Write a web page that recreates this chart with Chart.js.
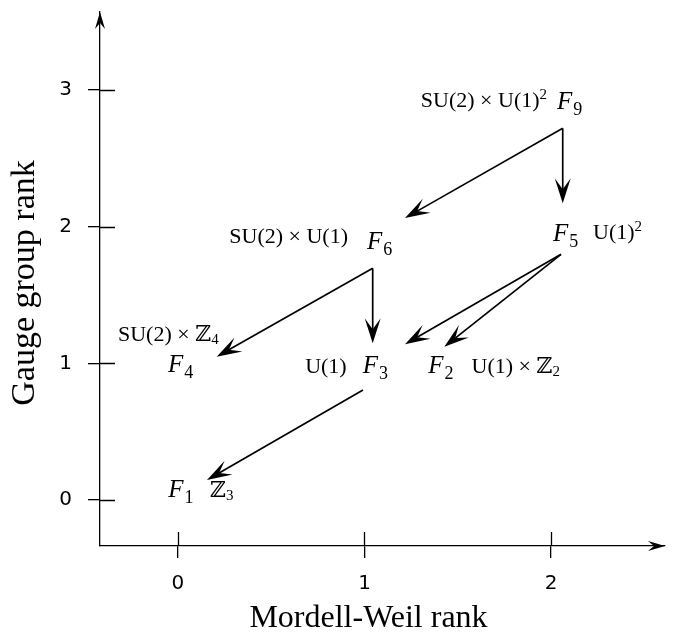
<!DOCTYPE html>
<html><head><meta charset="utf-8">
<script src="https://cdn.jsdelivr.net/npm/chart.js@4.4.1/dist/chart.umd.min.js"></script>
<style>html,body{margin:0;padding:0;background:#fff}#wrap{width:676px;height:633px;position:relative}</style>
</head><body><div id="wrap"><canvas id="c"></canvas></div>
<script>
// ---- data ----
const fibers = ['F_1','F_2','F_3','F_4','F_5','F_6','F_9'];
const mordellWeilRank = [0, 1, 1, 0, 2, 1, 2];
const gaugeGroupRank  = [0, 1, 1, 1, 2, 2, 3];
const gaugeGroups = ['ℤ_3', 'U(1) × ℤ_2', 'U(1)', 'SU(2) × ℤ_4', 'U(1)^2', 'SU(2) × U(1)', 'SU(2) × U(1)^2'];
const transitionFrom = ['F_9','F_9','F_6','F_6','F_5','F_5','F_3'];
const transitionTo   = ['F_6','F_5','F_4','F_3','F_3','F_2','F_1'];
const xTickValues = [0, 1, 2];
const yTickValues = [0, 1, 2, 3];
const xTitle = 'Mordell-Weil rank';
const yTitle = 'Gauge group rank';
const xRange = [-0.418, 2.611];
const yRange = [-0.336, 3.57];

// ---- layout (pixel offsets relative to each node) ----
const nameOffset  = {F_1:[-9.7,-3.3],F_2:[63.8,10],F_3:[-1.8,10],F_4:[-10,8.7],F_5:[2,14.4],F_6:[2.5,22.4],F_9:[6,19]};
const groupOffset = {F_1:[32,-3.3,'left'],F_2:[107,10,'left'],F_3:[-17.8,10,'right'],F_4:[-60,-22.3,'left'],F_5:[42,12.4,'left'],F_6:[-16.5,16.4,'right'],F_9:[-4,17,'right']};
const outOffset   = {F_9:[11.7,38.4],F_6:[8.2,41.7],F_5:[10,27.7],F_3:[-1.5,26.7]};
const inOffset    = [[40.5,-8.6],[11.7,-23.3],[38.7,-6.6],[8.2,-20],[40.5,-19],[79.8,-16.6],[29,-20]];

const SERIF = '"Liberation Serif","DejaVu Serif",serif';

function parseRich(s){
  const segs=[]; let buf='';
  for(let i=0;i<s.length;i++){
    const c=s[i];
    if(c==='_'||c==='^'){ if(buf){segs.push({t:buf,m:0});buf='';} segs.push({t:s[i+1],m:c==='_'?1:2}); i++; }
    else buf+=c;
  }
  if(buf) segs.push({t:buf,m:0});
  return segs;
}
function drawRich(ctx, s, x, y, align, size, italicBase, subSize, subShift){
  const segs = parseRich(s);
  const fontFor = sg => (sg.m===0 ? (italicBase?'italic ':'') + size + 'px ' : (subSize) + 'px ') + SERIF;
  let w=0;
  segs.forEach(sg=>{ ctx.font=fontFor(sg); sg.w=ctx.measureText(sg.t).width; w+=sg.w; });
  let cx = align==='right' ? x-w : x;
  ctx.textAlign='left'; ctx.textBaseline='alphabetic';
  segs.forEach(sg=>{
    ctx.font=fontFor(sg);
    const dy = sg.m===1 ? subShift : (sg.m===2 ? -0.38*size : 0);
    ctx.fillText(sg.t, cx, y+dy);
    cx += sg.w + (italicBase && sg.m===0 ? 1 : 0);
  });
}
function arrowHead(ctx, tx, ty, ux, uy, L, W, notch){
  const nx=-uy, ny=ux;
  ctx.beginPath();
  ctx.moveTo(tx,ty);
  ctx.lineTo(tx-L*ux+W*nx, ty-L*uy+W*ny);
  ctx.lineTo(tx-notch*ux, ty-notch*uy);
  ctx.lineTo(tx-L*ux-W*nx, ty-L*uy-W*ny);
  ctx.closePath(); ctx.fill();
}

const diagram = {
  id:'diagram',
  afterDraw(chart){
    const {ctx, chartArea:ca} = chart;
    const xs=chart.scales.x, ys=chart.scales.y;
    const node = n => { const i=fibers.indexOf(n); return [xs.getPixelForValue(mordellWeilRank[i]), ys.getPixelForValue(gaugeGroupRank[i])]; };
    ctx.save();
    ctx.fillStyle='#000'; ctx.strokeStyle='#000';
    // inner halves of tick marks
    ctx.lineWidth=1.3;
    ctx.beginPath();
    yTickValues.forEach(v=>{ const p=Math.round(ys.getPixelForValue(v))+0.5; ctx.moveTo(ca.left,p); ctx.lineTo(ca.left+15,p); });
    xTickValues.forEach(v=>{ const p=Math.round(xs.getPixelForValue(v))+0.5; ctx.moveTo(p,ca.bottom); ctx.lineTo(p,ca.bottom-14); });
    ctx.stroke();
    // axis arrowheads
    arrowHead(ctx, ca.left, ca.top, 0, -1, 17, 5, 11);
    arrowHead(ctx, ca.right, ca.bottom, 1, 0, 17, 5, 11);
    // transitions
    ctx.lineWidth=1.7;
    transitionFrom.forEach((f,k)=>{
      const a=node(f), b=node(transitionTo[k]);
      const sx=a[0]+outOffset[f][0], sy=a[1]+outOffset[f][1];
      const tx=b[0]+inOffset[k][0], ty=b[1]+inOffset[k][1];
      const d=Math.hypot(tx-sx,ty-sy), ux=(tx-sx)/d, uy=(ty-sy)/d;
      ctx.beginPath(); ctx.moveTo(sx,sy); ctx.lineTo(tx-14*ux,ty-14*uy); ctx.stroke();
      arrowHead(ctx, tx, ty, ux, uy, 25, 8, 14);
    });
    // labels
    fibers.forEach((f,i)=>{
      const p=node(f);
      drawRich(ctx, f, p[0]+nameOffset[f][0], p[1]+nameOffset[f][1], 'left', 25, true, 18, 6);
      const g=groupOffset[f];
      drawRich(ctx, gaugeGroups[i], p[0]+g[0], p[1]+g[1], g[2], 22, false, 15, 3);
    });
    // axis titles
    ctx.textAlign='center'; ctx.textBaseline='alphabetic';
    ctx.font='32px '+SERIF;
    ctx.fillText(xTitle, xs.getPixelForValue(1)+4, 627);
    ctx.translate(34, 283); ctx.rotate(-Math.PI/2);
    ctx.font='34px '+SERIF;
    ctx.fillText(yTitle, 0, 0);
    ctx.restore();
  }
};

const tickFont = {family:'"DejaVu Sans"', size:20};
new Chart(document.getElementById('c'), {
  type:'scatter',
  data:{ datasets:[{ data: mordellWeilRank.map((v,i)=>({x:v,y:gaugeGroupRank[i]})), pointRadius:0, pointHoverRadius:0, borderWidth:0, showLine:false }] },
  options:{
    responsive:true, maintainAspectRatio:false, animation:false,
    layout:{padding:{left:0,right:11,top:12,bottom:0}, autoPadding:false},
    plugins:{legend:{display:false}, tooltip:{enabled:false}},
    scales:{
      x:{ type:'linear', min:xRange[0], max:xRange[1],
          afterBuildTicks:s=>{ s.ticks = xTickValues.map(v=>({value:v})); },
          afterFit:s=>{ s.height=87; s.paddingLeft=0; s.paddingRight=0; },
          grid:{display:true, drawOnChartArea:false, drawTicks:true, tickLength:12, color:'#000', lineWidth:1.3},
          border:{display:true, color:'#000', width:1.3},
          ticks:{color:'#000', font:tickFont, padding:14, maxRotation:0} },
      y:{ type:'linear', min:yRange[0], max:yRange[1],
          afterBuildTicks:s=>{ s.ticks = yTickValues.map(v=>({value:v})); },
          afterFit:s=>{ s.width=100; s.paddingTop=0; s.paddingBottom=0; },
          grid:{display:true, drawOnChartArea:false, drawTicks:true, tickLength:12, color:'#000', lineWidth:1.3},
          border:{display:true, color:'#000', width:1.3},
          ticks:{color:'#000', font:tickFont, padding:16} }
    }
  },
  plugins:[diagram]
});
</script></body></html>
